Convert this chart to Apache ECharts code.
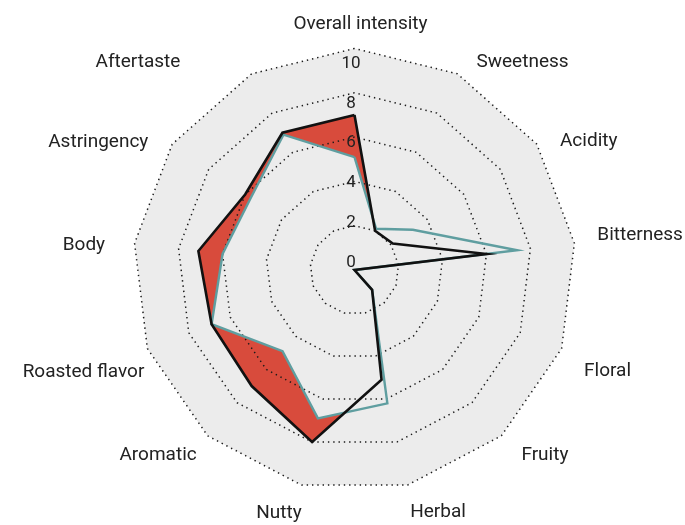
<!DOCTYPE html>
<html>
<head>
<meta charset="utf-8">
<script src="https://cdn.jsdelivr.net/npm/echarts@6/dist/echarts.min.js"></script>
<style>
  html, body { margin: 0; padding: 0; background: #ffffff; }
  #chart { width: 685px; height: 525px; }
</style>
</head>
<body>
<div id="chart"></div>
<script>
// Sensory attributes, clockwise from the top
const attributes = ['Overall intensity', 'Sweetness', 'Acidity', 'Bitterness', 'Floral', 'Fruity',
  'Herbal', 'Nutty', 'Aromatic', 'Roasted flavor', 'Body', 'Astringency', 'Aftertaste'];

// Scores (0-10) for the two coffees
const coffeeA = [7.0, 2.0, 2.1, 6.0, 0.0, 1.2, 5.1, 8.0, 7.0, 6.9, 7.1, 6.0, 7.0];
const coffeeB = [5.1, 2.1, 3.2, 7.4, 0.0, 1.2, 6.2, 6.9, 4.9, 6.9, 6.0, 5.7, 6.9];

// Score scale and its tick labels
const scaleMin = 0;
const scaleMax = 10;
const tickLabels = ['0', '2', '4', '6', '8', '10'];

// ---- layout / style ----
const CX = 354.5, CY = 270, R = 221.5;
const FONT = 'Roboto, "Liberation Sans", Arial, sans-serif';
const BG = '#ececec';
const RED = '#d84b3c';
const TEAL = '#5f9ea0';

// Fine placement of each attribute name (dx, dy in px)
const nameOffsets = [[6, 15.5], [46.5, 24], [19, 20], [26, -3], [8.5, 9], [17, -10], [21, -12],
  [-13, -11], [-23, -10], [-26.5, 10], [-11, 6.5], [-41, 21], [-95, 24]];

// ECharts lays radar indicators out counter-clockwise; reorder so the
// attributes run clockwise from the top.
const order = [0].concat(attributes.map((_, i) => i).slice(1).reverse());
const reorder = arr => order.map(i => arr[i]);

const rich = {};
nameOffsets.forEach(([dx, dy], i) => {
  rich['n' + i] = {
    color: '#222', fontSize: 19, fontFamily: FONT,
    padding: [2 * Math.max(dy, 0), 2 * Math.max(-dx, 0), 2 * Math.max(-dy, 0), 2 * Math.max(dx, 0)]
  };
});

const baseIndicators = reorder(attributes).map(n => ({ name: n, min: scaleMin, max: scaleMax }));
const hidden = { show: false };

const option = {
  animation: false,
  backgroundColor: '#ffffff',
  radar: [
    // grey backdrop + attribute names
    {
      center: [CX, CY], radius: R, startAngle: 90, shape: 'polygon', splitNumber: 1,
      indicator: baseIndicators,
      nameGap: 40,
      axisName: {
        show: true, color: '#222', fontSize: 19, fontFamily: FONT,
        align: 'center', verticalAlign: 'middle',
        formatter: (name) => '{n' + attributes.indexOf(name) + '|' + name + '}',
        rich: rich
      },
      splitArea: { show: true, areaStyle: { color: [BG], opacity: 1 } },
      splitLine: hidden, axisLine: hidden, axisTick: hidden, axisLabel: hidden,
      z: 0
    },
    // dotted rings drawn over the filled areas
    {
      center: [CX, CY], radius: R, startAngle: 90, shape: 'polygon', splitNumber: 5,
      indicator: baseIndicators,
      axisName: hidden,
      splitArea: hidden, axisLine: hidden, axisTick: hidden, axisLabel: hidden,
      splitLine: { show: true, lineStyle: { color: '#1a1a1a', width: 1.5, type: [1.4, 3.9] } },
      z: 3
    },
    // score labels along the top axis
    {
      center: [351, 262.5], radius: 199, startAngle: 90, shape: 'polygon', splitNumber: 5,
      indicator: baseIndicators.map((ind, i) => ({ name: ind.name, min: scaleMin, max: scaleMax, axisLabel: { show: i === 0 } })),
      axisName: hidden,
      splitArea: hidden, splitLine: hidden, axisLine: hidden, axisTick: hidden,
      axisLabel: {
        show: false, margin: 0, align: 'center', verticalAlign: 'middle',
        color: '#222', fontSize: 17, fontFamily: FONT,
        formatter: (v) => tickLabels[Math.round((v - scaleMin) / (scaleMax - scaleMin) * (tickLabels.length - 1))]
      },
      z: 5
    }
  ],
  series: [
    { // coffee A area
      type: 'radar', radarIndex: 0, z: 2, silent: true, symbol: 'none',
      lineStyle: { opacity: 0 }, areaStyle: { color: RED, opacity: 1 },
      emphasis: { disabled: true },
      data: [{ name: 'Coffee A', value: reorder(coffeeA) }]
    },
    { // coffee B area, masks A where B is larger
      type: 'radar', radarIndex: 0, z: 2, silent: true, symbol: 'none',
      lineStyle: { opacity: 0 }, areaStyle: { color: BG, opacity: 1 },
      emphasis: { disabled: true },
      data: [{ name: 'Coffee B', value: reorder(coffeeB) }]
    },
    { // coffee B outline
      type: 'radar', radarIndex: 0, z: 4, silent: true, symbol: 'none',
      lineStyle: { color: TEAL, width: 2.4, join: 'miter' },
      emphasis: { disabled: true },
      data: [{ name: 'Coffee B', value: reorder(coffeeB) }]
    },
    { // coffee A outline
      type: 'radar', radarIndex: 0, z: 4, silent: true, symbol: 'none',
      lineStyle: { color: '#111111', width: 2.6, join: 'miter' },
      emphasis: { disabled: true },
      data: [{ name: 'Coffee A', value: reorder(coffeeA) }]
    }
  ]
};

const chart = echarts.init(document.getElementById('chart'), null, { renderer: 'canvas' });
chart.setOption(option);
</script>
</body>
</html>
